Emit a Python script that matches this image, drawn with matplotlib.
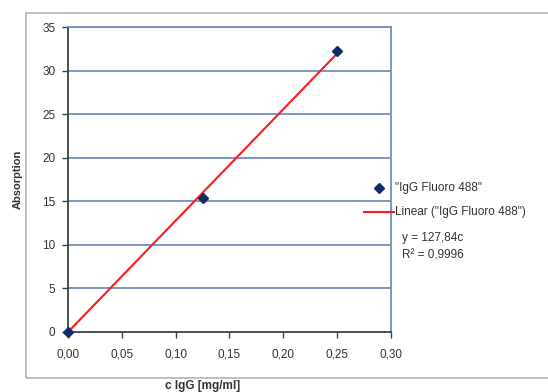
import numpy as np
import matplotlib.pyplot as plt
from matplotlib.lines import Line2D
from matplotlib.patches import Rectangle

plt.rcParams["font.family"] = ["Liberation Sans", "DejaVu Sans"]

# measured points
conc = [0.0, 0.125, 0.25]
absorption = [0.0, 15.4, 32.2]
slope = 127.84
r2 = "0,9996"

x_ticks = [0.0, 0.05, 0.10, 0.15, 0.20, 0.25, 0.30]
x_ticklabels = ["0,00", "0,05", "0,10", "0,15", "0,20", "0,25", "0,30"]
y_ticks = [0, 5, 10, 15, 20, 25, 30, 35]

grid_blue = "#6f8dbd"
txt = "#333333"

fig = plt.figure(figsize=(5.48, 3.92), dpi=100)

# outer chart frame
fig.patches.append(Rectangle((26 / 548, 1 - 378 / 392), 1.0, (378 - 12.5) / 392,
                             transform=fig.transFigure, fill=False,
                             edgecolor="#b4b4b4", linewidth=1.2))

ax = fig.add_axes([68 / 548, 1 - 332 / 392, (391 - 68) / 548, (332 - 27) / 392])

for yv in y_ticks[1:]:
    ax.axhline(yv, color=grid_blue, linewidth=1.3, zorder=1)

fit_x = np.array([conc[0], conc[-1]])
ax.plot(fit_x, slope * fit_x, color="#ff1a1a", linewidth=1.5, zorder=2)
ax.plot(conc, absorption, linestyle="none", marker="D", markersize=5.5,
        color="#0d2a6b", zorder=3, clip_on=False)

ax.set_xlim(0, 0.30)
ax.set_ylim(0, 35)
ax.set_xticks(x_ticks)
ax.set_xticklabels(x_ticklabels)
ax.set_yticks(y_ticks)

ax.spines["left"].set_color("#404040")
ax.spines["bottom"].set_color("#404040")
ax.spines["right"].set_color(grid_blue)
ax.spines["top"].set_color(grid_blue)
for s in ax.spines.values():
    s.set_linewidth(1.3)

ax.tick_params(axis="both", direction="out", length=4, width=1, color="#404040",
               labelsize=8.5, labelcolor=txt)
ax.tick_params(axis="x", pad=8)
ax.tick_params(axis="y", pad=5)

ax.set_ylabel("Absorption", fontsize=8, fontweight="bold", color=txt, labelpad=14)
fig.text(203 / 548, 1 - 386 / 392, "c IgG [mg/ml]", fontsize=8.5, fontweight="bold",
         color=txt, ha="center", va="center")

# legend on the right
fig.lines.append(Line2D([378.5 / 548], [1 - 188 / 392], marker="D", markersize=5,
                        color="#0d2a6b", linestyle="none", transform=fig.transFigure))
fig.text(395 / 548, 1 - 188 / 392, '"IgG Fluoro 488"', fontsize=8.5, color=txt, va="center")
fig.lines.append(Line2D([364 / 548, 394 / 548], [1 - 212 / 392, 1 - 212 / 392],
                        color="#ff1a1a", linewidth=1.5, transform=fig.transFigure))
fig.text(395 / 548, 1 - 212 / 392, 'Linear ("IgG Fluoro 488")', fontsize=8.5, color=txt,
         va="center")
fig.text(402 / 548, 1 - 238 / 392, "y = " + f"{slope:.2f}".replace(".", ",") + "c",
         fontsize=8.5, color=txt, va="center")
fig.text(402 / 548, 1 - 255 / 392, "R² = " + r2, fontsize=8.5, color=txt, va="center")

fig.savefig("out.png", dpi=100)
